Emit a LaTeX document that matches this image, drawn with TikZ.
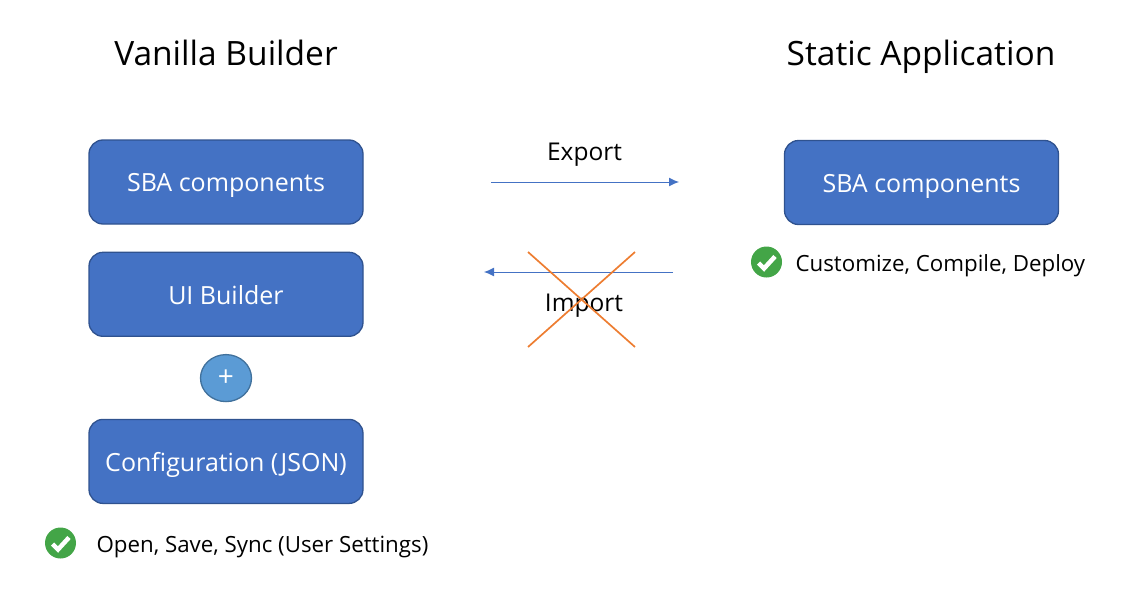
\documentclass[tikz,border=0pt]{standalone}
\usepackage{fontspec}
\setmainfont{Open Sans}
\usetikzlibrary{positioning, arrows.meta, shapes.geometric}
\definecolor{boxblue}{HTML}{4472C4}
\definecolor{boxline}{HTML}{2F528F}
\definecolor{plusblue}{HTML}{5B9BD5}
\definecolor{plusline}{HTML}{41719C}
\definecolor{crossor}{HTML}{ED7D31}
\definecolor{okgreen}{HTML}{43A547}
\newcommand\wa{274pt}
\newcommand\ha{84pt}
\newcommand\rc{14pt}
\tikzset{
  sbabox/.style={draw=boxline, line width=1.3pt, fill=boxblue, text=white, rounded corners=\rc, minimum height=\ha, minimum width=\wa, text height=19.5pt, text depth=0pt, font=\fontsize{25}{28}\selectfont},
  title/.style={text height=24pt, text depth=0pt, font=\fontsize{33.5}{38}\selectfont},
  label/.style={font=\fontsize{24.5}{28}\selectfont},
  note/.style={font=\fontsize{22.3}{26}\selectfont, anchor=west},
  okdot/.style={circle, fill=okgreen, minimum size=31pt, inner sep=0pt},
  flow/.style={boxblue, line width=1pt, -{Latex[length=10pt,width=9pt]}},
  crossline/.style={crossor, line width=1.7pt}
}

\begin{document}
\begin{tikzpicture}[x=1pt, y=-1pt]
    \useasboundingbox (0,0) rectangle (1140,589);

    % left column
    \node (van) [title] at (226,53) {Vanilla Builder};
    \node (sba) [sbabox] at (226,182) {SBA components};
    \node (ui) [sbabox, below=27pt of sba] {UI Builder};
    \node (plus) [draw=plusline, line width=1.3pt, fill=plusblue, text=white, ellipse, minimum width=51pt, minimum height=47pt, inner sep=0pt, font=\fontsize{28}{30}\selectfont, below=17pt of ui] {+};
    \node (conf) [sbabox, below=16.5pt of plus] {Configuration (JSON)};

    % right column
    \node (stat) [title] at (921,53) {Static Application};
    \node (sbb) [sbabox] at (921.5,182.5) {SBA components};

    % middle
    \coordinate (ea) at (491,182);
    \coordinate (eb) at (679,182);
    \coordinate (ia) at (673,272);
    \coordinate (ib) at (484,272);
    \node (exp) [label] at (584.5,154.5) {Export};
    \node (imp) [label] at (584,305.5) {Import};
    \draw[flow] (ea) -- (eb);
    \draw[flow] (ia) -- (ib);

    \coordinate (c1) at (528,252);
    \coordinate (c2) at (635,347);
    \coordinate (c3) at (528,347);
    \coordinate (c4) at (635,252);
    \draw[crossline] (c1) -- (c2);
    \draw[crossline] (c3) -- (c4);

    % checks
    \node (ok1) [okdot] at (766.5,262) {};
    \node (ok2) [okdot] at (60.5,543) {};
    \draw[white, line width=4.5pt] (ok1.center) ++(-8,1) -- ++(5.5,5.5) -- ++(11,-12);
    \draw[white, line width=4.5pt] (ok2.center) ++(-8,1) -- ++(5.5,5.5) -- ++(11,-12);
    \node (custom) [note] at (792,266) {Customize, Compile, Deploy};
    \node (open) [note] at (93,547) {Open, Save, Sync (User Settings)};
\end{tikzpicture}
\end{document}
